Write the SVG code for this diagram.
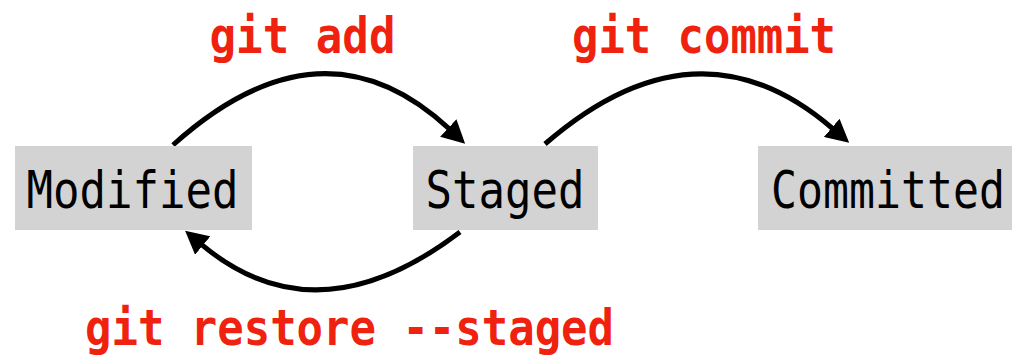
<svg xmlns="http://www.w3.org/2000/svg" width="1012" height="360" viewBox="0 0 1012 360">
  <style>
    .box { fill: #d3d3d3; }
    .lbl { font-family: "DejaVu Sans Mono", "Liberation Mono", monospace; font-size: 52px; fill: #000; text-anchor: middle; }
    .cmd { font-family: "DejaVu Sans Mono", "Liberation Mono", monospace; font-size: 50px; font-weight: bold; fill: #ee220f; text-anchor: middle; }
    .edge { fill: none; stroke: #000; stroke-width: 5; }
  </style>
  <defs>
    <marker id="arrow" markerUnits="userSpaceOnUse" viewBox="0 0 23 24" markerWidth="23" markerHeight="24" refX="1" refY="12" orient="auto">
      <path d="M0,0 L23,12 L0,24 z" fill="#000"/>
    </marker>
  </defs>
  <rect width="1012" height="360" fill="#fff"/>
  <g id="edges">
    <g id="edge-add">
      <path class="edge" d="M173,145 Q322,11 449,128.7" marker-end="url(#arrow)"/>
      <text class="cmd" x="302.5" y="53" textLength="186" lengthAdjust="spacingAndGlyphs">git add</text>
    </g>
    <g id="edge-commit">
      <path class="edge" d="M545,144 Q697,11.8 832.5,128.5" marker-end="url(#arrow)"/>
      <text class="cmd" x="704" y="53" textLength="264" lengthAdjust="spacingAndGlyphs">git commit</text>
    </g>
    <g id="edge-restore">
      <path class="edge" d="M460,232 Q317,340.8 202,244.9" marker-end="url(#arrow)"/>
      <text class="cmd" x="349.5" y="345" textLength="529" lengthAdjust="spacingAndGlyphs">git restore --staged</text>
    </g>
  </g>
  <g id="node-modified">
    <rect class="box" x="15" y="146" width="237" height="84"/>
    <text class="lbl" x="132.5" y="208" textLength="212" lengthAdjust="spacingAndGlyphs">Modified</text>
  </g>
  <g id="node-staged">
    <rect class="box" x="413" y="146" width="185" height="84"/>
    <text class="lbl" x="505" y="208" textLength="159" lengthAdjust="spacingAndGlyphs">Staged</text>
  </g>
  <g id="node-committed">
    <rect class="box" x="758" y="146" width="262" height="84"/>
    <text class="lbl" x="0" y="0" transform="translate(888,208) scale(0.83,1)">Committed</text>
  </g>
</svg>
